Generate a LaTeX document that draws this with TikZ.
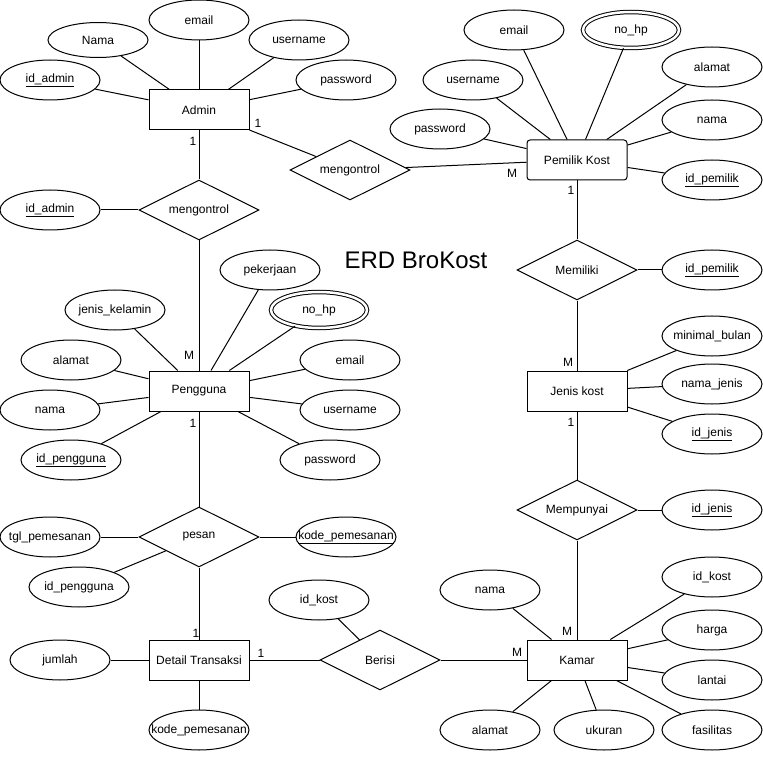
\documentclass[tikz,border=0pt]{standalone}
\usepackage{fontspec}
\setmainfont{Liberation Sans}
\usetikzlibrary{shapes.geometric}

\begin{document}
\begin{tikzpicture}[
    x=1pt, y=-1pt,
    line width=1pt,
    every node/.style={font=\fontsize{12}{14}\selectfont},
    entity/.style={rectangle, draw, minimum width=100pt, minimum height=40pt, inner sep=0pt},
    attr/.style={ellipse, draw, minimum width=100pt, minimum height=40pt, inner xsep=-40pt, inner ysep=0pt},
    multi/.style={attr, double, double distance=2.5pt, minimum width=96pt, minimum height=36pt},
    relation/.style={diamond, draw, aspect=2, minimum width=120pt, minimum height=60pt, inner sep=0pt},
    card/.style={inner sep=1pt},
]
\useasboundingbox (0,0) rectangle (763,759);

% Title
\node[font=\fontsize{24}{28}\selectfont] (title) at (416,260) {ERD BroKost};

% Admin
\node[entity] (admin) at (199,110) {Admin};
\node[attr, minimum height=35pt] (admNama) at (98,40) {Nama};
\node[attr] (admEmail) at (199,20) {email};
\node[attr] (admUser) at (299,40) {username};
\node[attr] (admPass) at (346,80) {password};
\node[attr] (admId) at (50,80) {\underline{id\_admin}};

% Pemilik Kost
\node[entity, rounded corners=3pt] (pemilik) at (577,160) {Pemilik Kost};
\node[attr] (pmEmail) at (514,30) {email};
\node[multi] (pmHp) at (631,30) {no\_hp};
\node[attr] (pmAlamat) at (712,67) {alamat};
\node[attr] (pmUser) at (473,80) {username};
\node[attr] (pmNama) at (712,120) {nama};
\node[attr] (pmPass) at (440,129) {password};
\node[attr] (pmId) at (712,180) {\underline{id\_pemilik}};

% Relations of Admin
\node[relation] (ctrlPemilik) at (350,170) {mengontrol};
\node[relation] (ctrlPengguna) at (199,210) {mengontrol};
\node[attr] (ctrlId) at (50,210) {\underline{id\_admin}};

% Pengguna
\node[entity] (pengguna) at (199,391) {Pengguna};
\node[attr] (pgKerja) at (270,270) {pekerjaan};
\node[attr] (pgKelamin) at (115,310) {jenis\_kelamin};
\node[multi] (pgHp) at (319,310) {no\_hp};
\node[attr] (pgAlamat) at (71,360) {alamat};
\node[attr] (pgEmail) at (350,360) {email};
\node[attr] (pgNama) at (50,410) {nama};
\node[attr] (pgUser) at (350,410) {username};
\node[attr] (pgId) at (71,460) {\underline{id\_pengguna}};
\node[attr] (pgPass) at (330,460) {password};

% pesan
\node[relation] (pesan) at (199,537) {pesan};
\node[attr] (psTgl) at (50,537) {tgl\_pemesanan};
\node[attr] (psKode) at (346,537) {\underline{kode\_pemesanan}};
\node[attr] (psId) at (79,587) {id\_pengguna};

% Detail Transaksi
\node[entity] (detail) at (199,660) {Detail Transaksi};
\node[attr] (dtJumlah) at (60,660) {jumlah};
\node[attr] (dtKode) at (199,730) {kode\_pemesanan};
\node[relation] (berisi) at (380,660) {Berisi};
\node[attr] (brKost) at (319,600) {id\_kost};

% Jenis kost
\node[relation] (memiliki) at (577,270) {Memiliki};
\node[attr] (mlId) at (712,270) {\underline{id\_pemilik}};
\node[entity] (jenis) at (577,391) {Jenis kost};
\node[attr] (jkMinimal) at (712,336) {minimal\_bulan};
\node[attr] (jkNama) at (712,384) {nama\_jenis};
\node[attr] (jkId) at (712,434) {\underline{id\_jenis}};
\node[relation] (mempunyai) at (577,510) {Mempunyai};
\node[attr] (mpId) at (712,510) {\underline{id\_jenis}};

% Kamar
\node[entity] (kamar) at (577,660) {Kamar};
\node[attr] (kmNama) at (490,590) {nama};
\node[attr] (kmKost) at (712,577) {id\_kost};
\node[attr] (kmHarga) at (712,630) {harga};
\node[attr] (kmLantai) at (712,680) {lantai};
\node[attr] (kmFasilitas) at (712,730) {fasilitas};
\node[attr] (kmAlamat) at (490,730) {alamat};
\node[attr] (kmUkuran) at (604,730) {ukuran};

% Cardinalities
\node[card] (cA1) at (258,123) {1};
\node[card] (cA2) at (193,141) {1};
\node[card] (cP1) at (512,173) {M};
\node[card] (cP2) at (571,190) {1};
\node[card] (cG1) at (189,355) {M};
\node[card] (cG2) at (193,423) {1};
\node[card] (cD1) at (196,633) {1};
\node[card] (cD2) at (261,653) {1};
\node[card] (cJ1) at (568,362) {M};
\node[card] (cJ2) at (571,422) {1};
\node[card] (cK1) at (567,631) {M};
\node[card] (cK2) at (517,652) {M};

% Attribute links
\draw (admin) -- (admNama);
\draw (admin) -- (admEmail);
\draw (admin) -- (admUser);
\draw (admin) -- (admPass);
\draw (admin) -- (admId);
\draw (pemilik) -- (pmEmail);
\draw (pemilik) -- (pmHp);
\draw (pemilik) -- (pmAlamat);
\draw (pemilik) -- (pmUser);
\draw (pemilik) -- (pmNama);
\draw (pemilik) -- (pmPass);
\draw (pemilik) -- (pmId);
\draw (pengguna) -- (pgKerja);
\draw (pengguna) -- (pgKelamin);
\draw (pengguna) -- (pgHp);
\draw (pengguna) -- (pgAlamat);
\draw (pengguna) -- (pgEmail);
\draw (pengguna) -- (pgNama);
\draw (pengguna) -- (pgUser);
\draw (pengguna) -- (pgId);
\draw (pengguna) -- (pgPass);
\draw (detail) -- (dtJumlah);
\draw (detail) -- (dtKode);
\draw (jenis) -- (jkMinimal);
\draw (jenis) -- (jkNama);
\draw (jenis) -- (jkId);
\draw (kamar) -- (kmNama);
\draw (kamar) -- (kmKost);
\draw (kamar) -- (kmHarga);
\draw (kamar) -- (kmLantai);
\draw (kamar) -- (kmFasilitas);
\draw (kamar) -- (kmAlamat);
\draw (kamar) -- (kmUkuran);
\draw (ctrlPengguna) -- (ctrlId);
\draw (pesan) -- (psTgl);
\draw (pesan) -- (psKode);
\draw (pesan) -- (psId);
\draw (berisi) -- (brKost);
\draw (memiliki) -- (mlId);
\draw (mempunyai) -- (mpId);

% Relationship links
\draw (admin) -- (ctrlPemilik) -- (pemilik);
\draw (admin) -- (ctrlPengguna) -- (pengguna);
\draw (pengguna) -- (pesan) -- (detail);
\draw (detail) -- (berisi) -- (kamar);
\draw (pemilik) -- (memiliki) -- (jenis);
\draw (jenis) -- (mempunyai) -- (kamar);

\end{tikzpicture}
\end{document}
